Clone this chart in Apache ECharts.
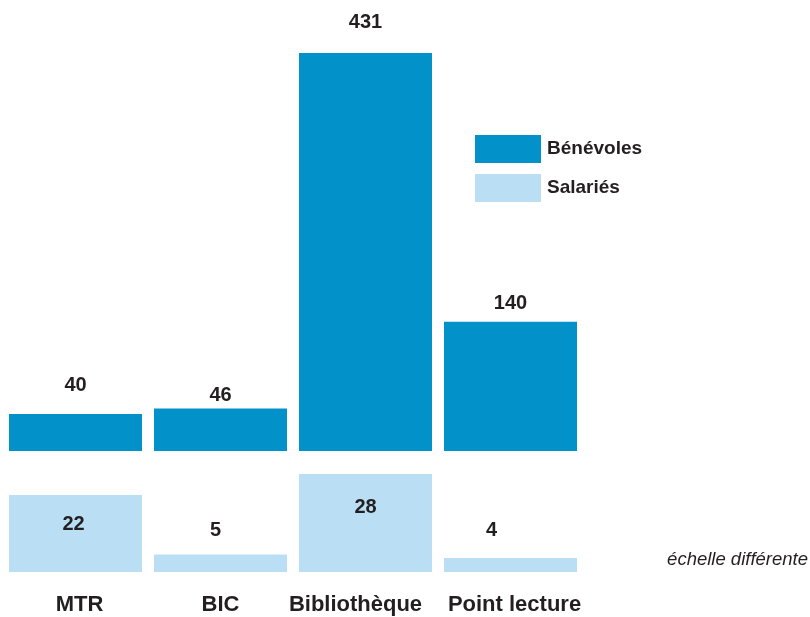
<!DOCTYPE html>
<html>
<head>
<meta charset="utf-8">
<script src="https://cdn.jsdelivr.net/npm/echarts@6/dist/echarts.min.js"></script>
<style>
  html, body { margin: 0; padding: 0; background: #fff; }
  #chart { width: 810px; height: 617px; }
</style>
</head>
<body>
<div id="chart"></div>
<script>
// données
var categories = ["MTR", "BIC", "Bibliothèque", "Point lecture"];
var benevoles = [40, 46, 431, 140];
var salaries = [22, 5, 28, 4];

var FONT = "Liberation Sans, Arial, sans-serif";
var TEXT = "#231f20";
var DARK = "#0391c9";
var LIGHT = "#badff5";

// réglages des étiquettes (placement à la main, comme dans l'original)
var topLabelDist = [19, 3, 21, 8];
var bottomLabelPos = ["insideTop", "top", "insideTop", "top"];
var bottomLabelDist = [19, 14, 23, 18];
var bottomLabelShift = [-2, -5, 0, -19];
var catShift = { "MTR": 3, "Bibliothèque": -10, "Point lecture": 6 };

function labelStyle() {
  return {
    show: true,
    fontFamily: FONT,
    fontWeight: "bold",
    fontSize: 20,
    lineHeight: 20,
    color: TEXT
  };
}

var benevolesData = benevoles.map(function (v, i) {
  var lab = labelStyle();
  lab.position = "top";
  lab.distance = topLabelDist[i];
  return { value: v, label: lab };
});

var salariesData = salaries.map(function (v, i) {
  var lab = labelStyle();
  lab.position = bottomLabelPos[i];
  lab.distance = bottomLabelDist[i];
  lab.offset = [bottomLabelShift[i], 0];
  return { value: v, label: lab };
});

var chart = echarts.init(document.getElementById("chart"));

chart.setOption({
  animation: false,
  backgroundColor: "#fff",
  legend: {
    orient: "vertical",
    left: 470,
    top: 130,
    itemWidth: 66,
    itemHeight: 28,
    itemGap: 11,
    icon: "rect",
    textStyle: {
      fontFamily: FONT,
      fontWeight: "bold",
      fontSize: 19,
      color: TEXT,
      padding: [0, 0, 0, 1]
    },
    data: ["Bénévoles", "Salariés"]
  },
  grid: [
    { left: 3, width: 580, top: 53, height: 398 },
    { left: 3, width: 580, top: 467, height: 105 }
  ],
  xAxis: [
    {
      gridIndex: 0,
      type: "category",
      data: categories,
      axisLine: { show: false },
      axisTick: { show: false },
      axisLabel: { show: false }
    },
    {
      gridIndex: 1,
      type: "category",
      data: categories,
      axisLine: { show: false },
      axisTick: { show: false },
      axisLabel: {
        margin: 22,
        interval: 0,
        formatter: function (v) {
          var s = catShift[v] || 0;
          if (s < 0) return "{l|" + v + "}";
          if (s > 0) return "{r|" + v + "}";
          return "{c|" + v + "}";
        },
        rich: {
          c: { fontFamily: FONT, fontWeight: "bold", fontSize: 22, color: TEXT },
          l: { fontFamily: FONT, fontWeight: "bold", fontSize: 22, color: TEXT, padding: [0, 20, 0, 0] },
          r: { fontFamily: FONT, fontWeight: "bold", fontSize: 22, color: TEXT, padding: [0, 0, 0, 8] }
        }
      }
    }
  ],
  yAxis: [
    { gridIndex: 0, type: "value", min: 0, max: 431, show: false, splitLine: { show: false } },
    { gridIndex: 1, type: "value", min: 0, max: 30, show: false, splitLine: { show: false } }
  ],
  series: [
    {
      name: "Bénévoles",
      type: "bar",
      xAxisIndex: 0,
      yAxisIndex: 0,
      barWidth: 133,
      itemStyle: { color: DARK },
      data: benevolesData
    },
    {
      name: "Salariés",
      type: "bar",
      xAxisIndex: 1,
      yAxisIndex: 1,
      barWidth: 133,
      itemStyle: { color: LIGHT },
      data: salariesData
    }
  ],
  graphic: [
    {
      type: "text",
      right: 2,
      top: 550,
      style: {
        text: "échelle différente",
        fontFamily: FONT,
        fontStyle: "italic",
        fontSize: 18.5,
        fill: TEXT
      }
    }
  ]
});
</script>
</body>
</html>
